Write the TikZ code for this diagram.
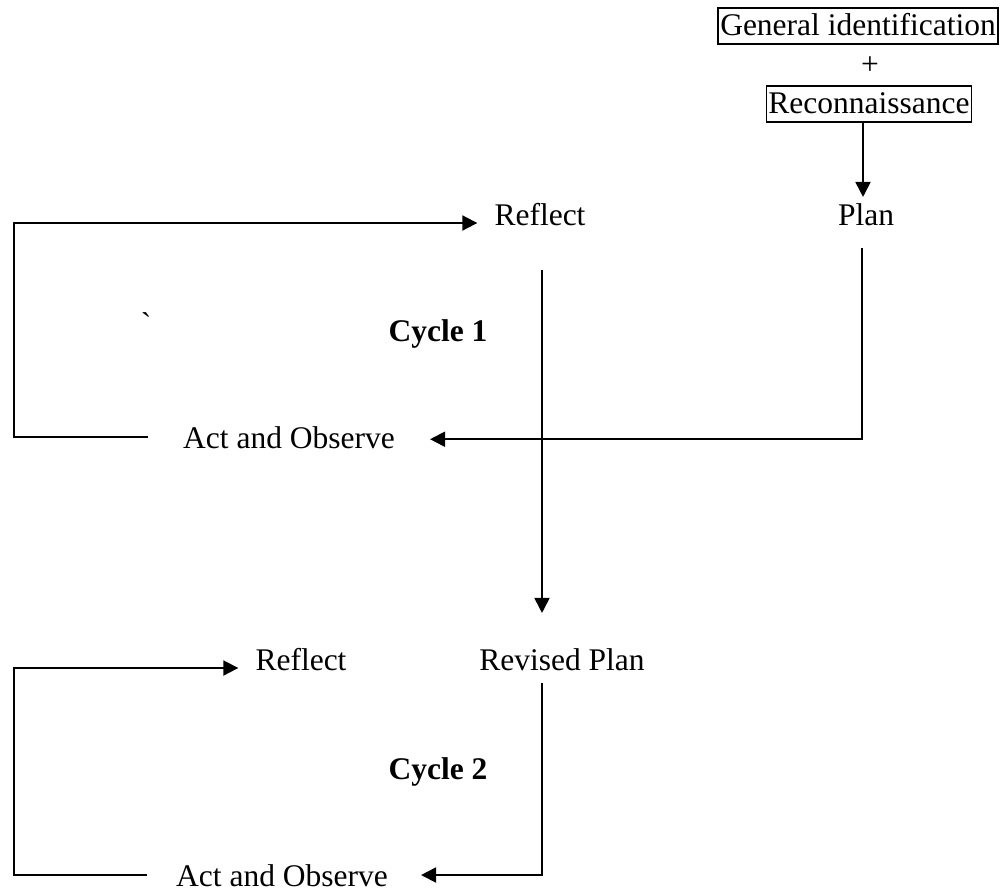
\documentclass[tikz,border=0pt]{standalone}
\usepackage{fontspec}
\setmainfont{Liberation Serif}
\usetikzlibrary{arrows.meta}
\begin{document}
\begin{tikzpicture}[x=1pt,y=-1pt,
  lbl/.style={inner sep=0pt,anchor=base,font=\fontsize{31.5}{38}\selectfont},
  boxed/.style={lbl,draw,line width=1.8pt,inner xsep=2pt,inner ysep=0pt,text height=27pt,text depth=9pt},
  bold/.style={lbl,font=\fontsize{31.5}{38}\selectfont\bfseries},
  conn/.style={line width=1.9pt},
  arr/.style={conn,-{Triangle[length=15pt,width=15pt]}}]
\useasboundingbox (0,0) rectangle (1000,892);
% labels
\node[boxed] (gen) at (858,35) {General identification};
\node[lbl,anchor=center] (plus) at (870,66) {+};
\node[boxed] (rec) at (869,113) {Reconnaissance};
\node[lbl] (plan) at (866,225) {Plan};
\node[lbl] (refl1) at (540,225) {Reflect};
\node[bold] (cyc1) at (438,341) {Cycle 1};
\node[lbl,anchor=center] (tick) at (146,324) {\textasciigrave};
\node[lbl] (act1) at (289,448) {Act and Observe};
\node[lbl] (refl2) at (301,670) {Reflect};
\node[lbl] (revp) at (562,670) {Revised Plan};
\node[bold] (cyc2) at (438,779) {Cycle 2};
\node[lbl] (act2) at (282,886) {Act and Observe};
% helper coordinates
\coordinate (r0) at (863,123);
\coordinate (p0) at (862,248);
\coordinate (l1a) at (148,437);
\coordinate (l1c) at (14,223);
\coordinate (d0) at (542,270);
\coordinate (l2a) at (147,875);
\coordinate (l2c) at (14,668);
\coordinate (q0) at (542,683);
% connectors
\draw[arr,shorten >=6pt] (r0) -- (r0 |- plan.north);
\draw[arr,shorten >=35pt] (p0) |- ([yshift=-2pt]act1.east);
\draw[arr,shorten >=17pt] (l1a) -| (l1c) -- (l1c -| refl1.west);
\draw[arr,shorten >=35pt] (d0) -- (d0 |- revp.north);
\draw[arr,shorten >=17pt] (l2a) -| (l2c) -- (l2c -| refl2.west);
\draw[arr,shorten >=33pt] (q0) |- (q0 |- l2a) -- (l2a -| act2.east);
\end{tikzpicture}
\end{document}
